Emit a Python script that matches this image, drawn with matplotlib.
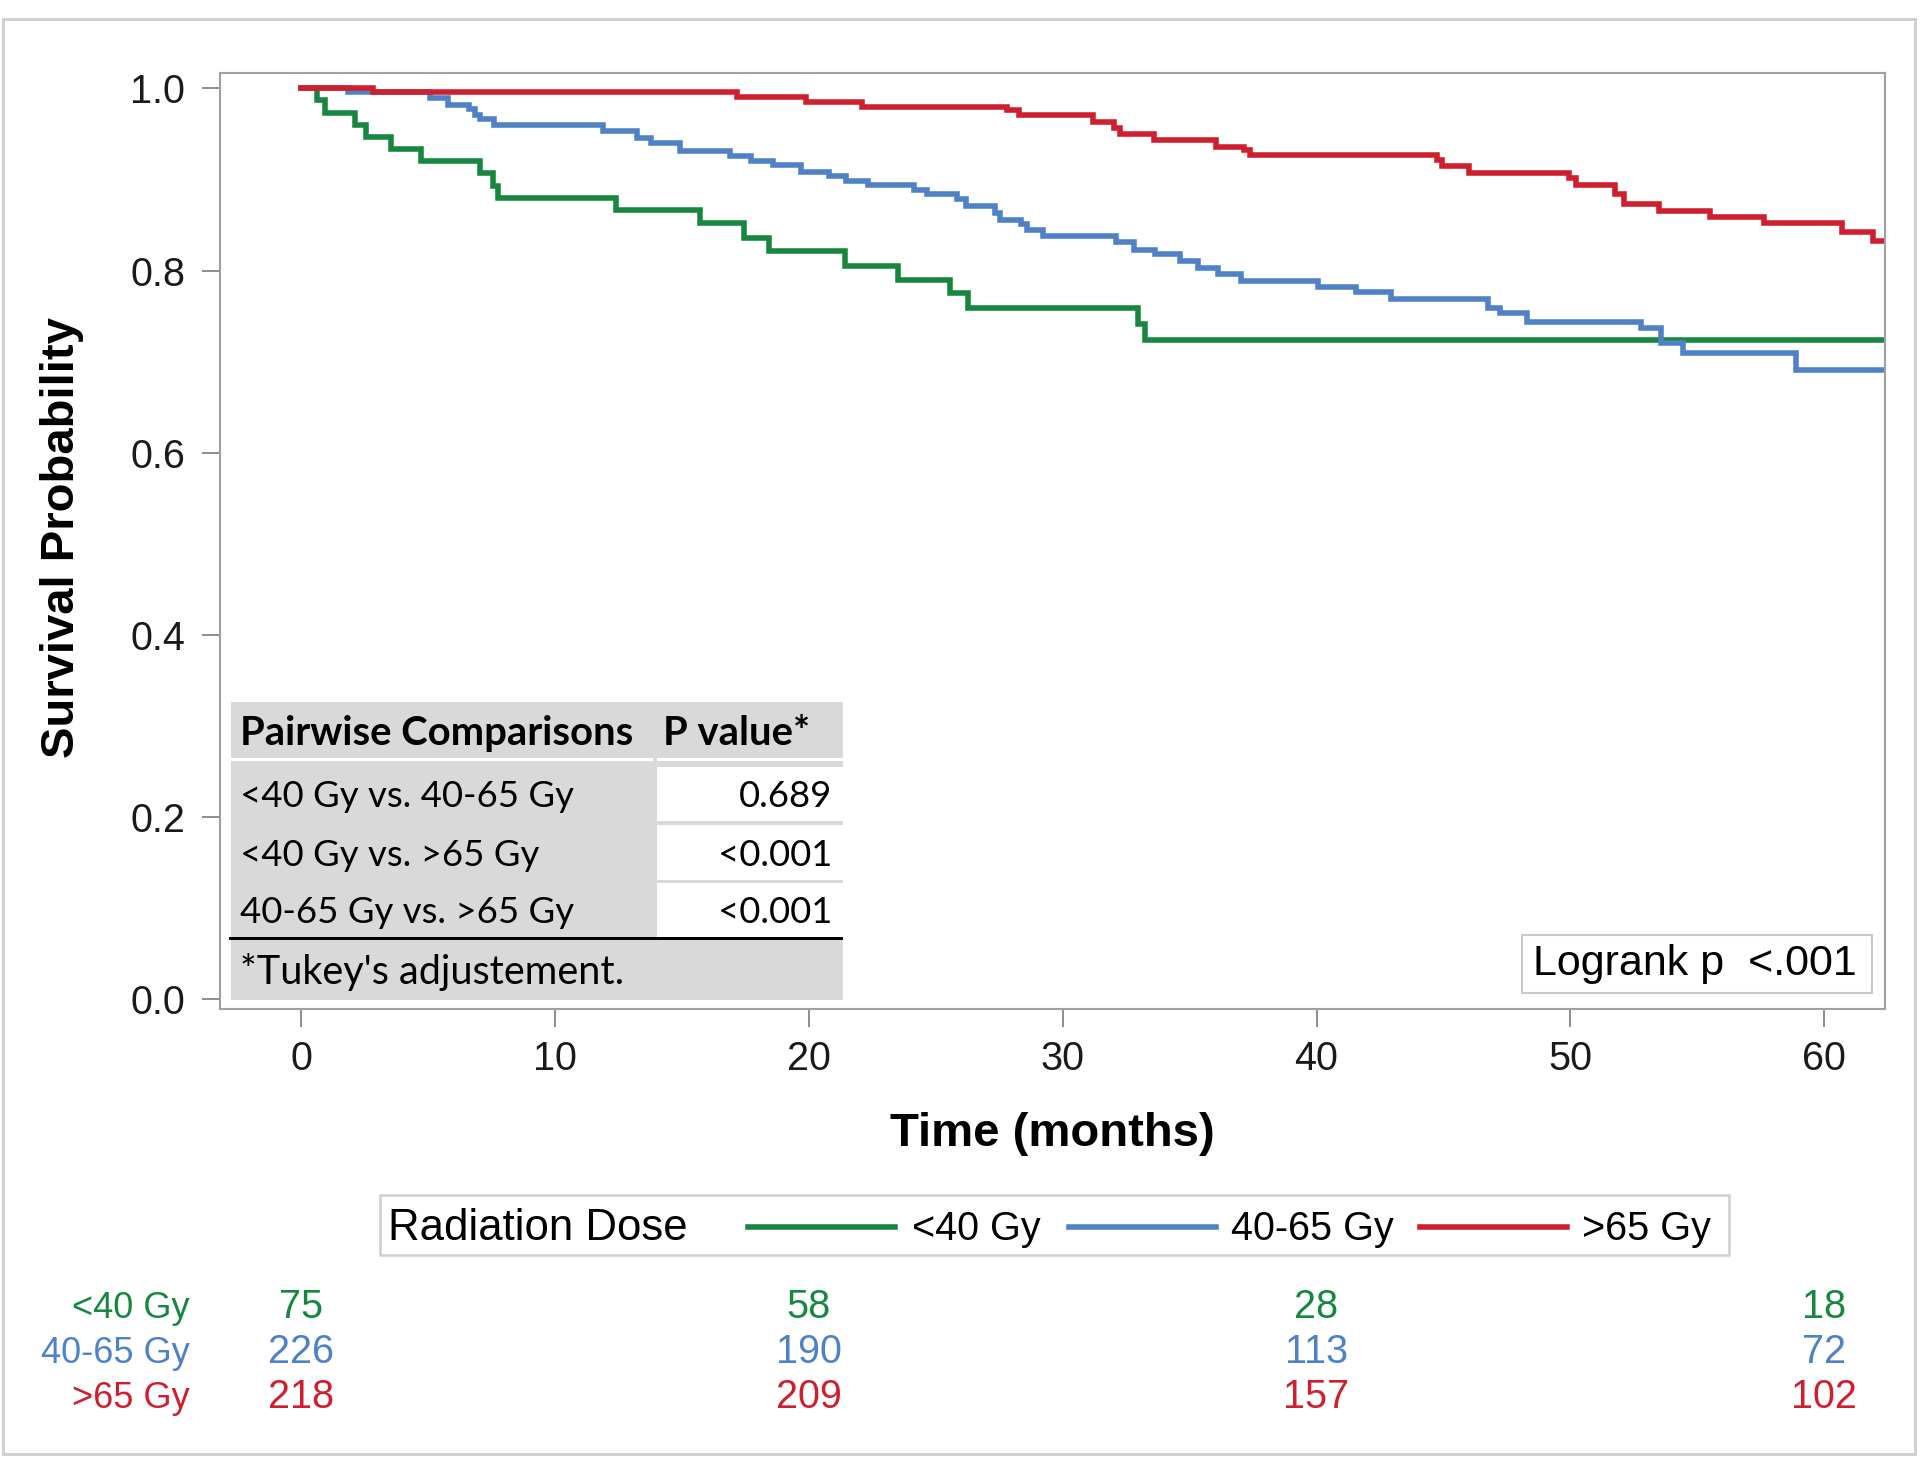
import matplotlib
matplotlib.use('Agg')
import matplotlib.pyplot as plt
from matplotlib.patches import Rectangle
from matplotlib.lines import Line2D
from matplotlib.transforms import blended_transform_factory

plt.rcParams['font.family'] = ['Liberation Sans', 'DejaVu Sans']

W, H = 1920, 1457

groups = ['<40 Gy', '40-65 Gy', '>65 Gy']
colors = ['#17873f', '#4f81c6', '#cf1f2e']

# Kaplan-Meier steps (months, survival)
t_lt40 = [0, 0.65, 0.93, 2.13, 2.55, 3.53, 4.73, 7.05, 7.55, 7.75, 12.39, 15.70,
          17.46, 18.44, 21.41, 23.51, 25.56, 26.27, 32.95, 33.23, 62.4]
s_lt40 = [1.0, 0.987, 0.973, 0.960, 0.947, 0.933, 0.920, 0.907, 0.893, 0.880, 0.866,
          0.852, 0.836, 0.821, 0.805, 0.790, 0.775, 0.759, 0.741, 0.724, 0.724]

t_mid = [0, 1.85, 5.08, 5.79, 6.63, 6.84, 7.05, 7.61, 11.9, 13.23, 13.8, 14.93, 16.9,
         17.74, 18.59, 19.71, 20.78, 21.48, 22.33, 24.15, 24.65, 25.84, 26.19, 27.32,
         27.53, 28.37, 28.59, 29.22, 32.1, 32.81, 33.65, 34.64, 35.34, 36.11, 37.02,
         40.05, 41.57, 42.92, 46.77, 47.22, 48.27, 52.79, 53.55, 54.45, 58.9, 62.4]
s_mid = [1.0, 0.996, 0.989, 0.982, 0.977, 0.971, 0.966, 0.960, 0.953, 0.946, 0.940,
         0.931, 0.926, 0.920, 0.916, 0.908, 0.904, 0.898, 0.894, 0.888, 0.884, 0.878,
         0.871, 0.863, 0.856, 0.851, 0.844, 0.838, 0.831, 0.823, 0.818, 0.811, 0.803,
         0.796, 0.789, 0.782, 0.776, 0.769, 0.759, 0.753, 0.743, 0.737, 0.721, 0.710,
         0.691, 0.691]

t_hi = [0, 2.83, 17.17, 19.9, 22.11, 27.8, 28.3, 31.19, 32.03, 32.24, 33.58, 36.04,
        37.16, 37.38, 44.75, 44.95, 46.0, 49.93, 50.23, 51.74, 52.1, 53.47, 55.49,
        57.62, 60.71, 61.91, 62.4]
s_hi = [1.0, 0.996, 0.990, 0.985, 0.980, 0.976, 0.971, 0.963, 0.957, 0.950, 0.943,
        0.936, 0.932, 0.927, 0.921, 0.915, 0.907, 0.902, 0.894, 0.884, 0.873, 0.865,
        0.859, 0.852, 0.842, 0.832, 0.832]

# numbers at risk
risk_times = [0, 20, 40, 60]
risk_lt40 = [75, 58, 28, 18]
risk_mid = [226, 190, 113, 72]
risk_hi = [218, 209, 157, 102]

# pairwise comparison inset
comparisons = ['<40 Gy vs. 40-65 Gy', '<40 Gy vs. >65 Gy', '40-65 Gy vs. >65 Gy']
p_values = ['0.689', '<0.001', '<0.001']
footnote = "*Tukey's adjustement."
logrank_text = 'Logrank p  <.001'

x_ticks = [0, 10, 20, 30, 40, 50, 60]
y_ticks = [0.0, 0.2, 0.4, 0.6, 0.8, 1.0]


def fx(px):
    return px / W


def fy(py):
    return 1 - py / H


def box(fig, x0, y0, x1, y1, **kw):
    fig.add_artist(Rectangle((fx(x0), fy(y1)), (x1 - x0) / W, (y1 - y0) / H,
                             transform=fig.transFigure, **kw))


fig = plt.figure(figsize=(W / 100, H / 100), dpi=100)
ax = fig.add_axes([fx(220), fy(1009), (1885 - 220) / W, (1009 - 73.3) / H])

curves = [(t_lt40, s_lt40), (t_mid, s_mid), (t_hi, s_hi)]
for (t, s), c in zip(curves, colors):
    ax.step(t, s, where='post', color=c, lw=4.0, solid_joinstyle='miter')

ax.set_xlim(-3.19, 62.39)
ax.set_ylim(-0.0106, 1.0165)
ax.set_xticks(x_ticks)
ax.set_yticks(y_ticks)
ax.set_yticklabels(['%.1f' % v for v in y_ticks])
ax.tick_params(length=13, width=1.4, color='#8c8c8c', labelsize=28.5,
               labelcolor='#1a1a1a')
ax.tick_params(axis='y', pad=12)
ax.tick_params(axis='x', pad=9)
for sp in ax.spines.values():
    sp.set_color('#a0a0a0')
    sp.set_linewidth(1.5)

ax.set_xlabel('Time (months)', fontsize=34, fontweight='bold')
ax.xaxis.set_label_coords(0.5, -0.11)
ax.set_ylabel('Survival Probability', fontsize=34, fontweight='bold')
ax.yaxis.set_label_coords(-0.0817, 0.504)

# pairwise comparisons table
grey = '#d9d9d9'
box(fig, 231, 702, 843, 1000, facecolor=grey, edgecolor='none')
box(fig, 231, 758.5, 653, 761.5, facecolor='white', edgecolor='none')
box(fig, 657, 758.5, 843, 761.5, facecolor='white', edgecolor='none')
row_tops = [766.7, 825, 882.7]
row_h = 54.5
for top in row_tops:
    box(fig, 657, top, 843, top + row_h, facecolor='white', edgecolor='none')
box(fig, 229, 937, 843, 939.6, facecolor='black', edgecolor='none')

tfont = 'Lato'
fig.text(fx(240), fy(733), 'Pairwise Comparisons', fontsize=28.8, fontweight='bold',
         family=tfont, va='center', ha='left')
fig.text(fx(663), fy(733), 'P value*', fontsize=28.8, fontweight='bold',
         family=tfont, va='center', ha='left')
for top, comp, p in zip(row_tops, comparisons, p_values):
    yc = top + row_h / 2 + 3
    fig.text(fx(240), fy(yc), comp, fontsize=26.3, family=tfont, va='center', ha='left')
    fig.text(fx(832), fy(yc), p, fontsize=26.3, family=tfont, va='center', ha='right')
fig.text(fx(240), fy(972), footnote, fontsize=28.5, family=tfont, va='center', ha='left')

# logrank box
box(fig, 1522, 935, 1872, 993, facecolor='white', edgecolor='#c8c8c8', lw=1.5)
fig.text(fx(1533), fy(964), logrank_text, fontsize=31, va='center', ha='left')

# legend
box(fig, 379.6, 1195, 1729, 1255, facecolor='white', edgecolor='#cfcfcf', lw=1.8)
fig.text(fx(388), fy(1240), 'Radiation Dose', fontsize=31.5, va='baseline', ha='left')
leg_line_x = [748, 1069, 1420]
leg_text_x = [912, 1231, 1582]
for lx, tx, c, g in zip(leg_line_x, leg_text_x, colors, groups):
    fig.add_artist(Line2D([fx(lx), fx(lx + 147)], [fy(1227), fy(1227)],
                          transform=fig.transFigure, color=c, lw=4.0))
    fig.text(fx(tx), fy(1240), g, fontsize=28.5, va='baseline', ha='left')

# numbers at risk, placed on the time axis scale
trans = blended_transform_factory(ax.transData, fig.transFigure)
risk_rows = [risk_lt40, risk_mid, risk_hi]
row_base = [1318, 1363, 1408]
for vals, c, g, yb in zip(risk_rows, colors, groups, row_base):
    fig.text(fx(190), fy(yb), g, fontsize=26, color=c, va='baseline', ha='right')
    for t, n in zip(risk_times, vals):
        ax.text(t, fy(yb), str(n), transform=trans, fontsize=28.5, color=c,
                va='baseline', ha='center', clip_on=False)

# outer frame
box(fig, 2.7, 19.3, 1915, 1454, fill=False, edgecolor='#d0d0d0', lw=2.2)

fig.savefig('out.png', dpi=100)
